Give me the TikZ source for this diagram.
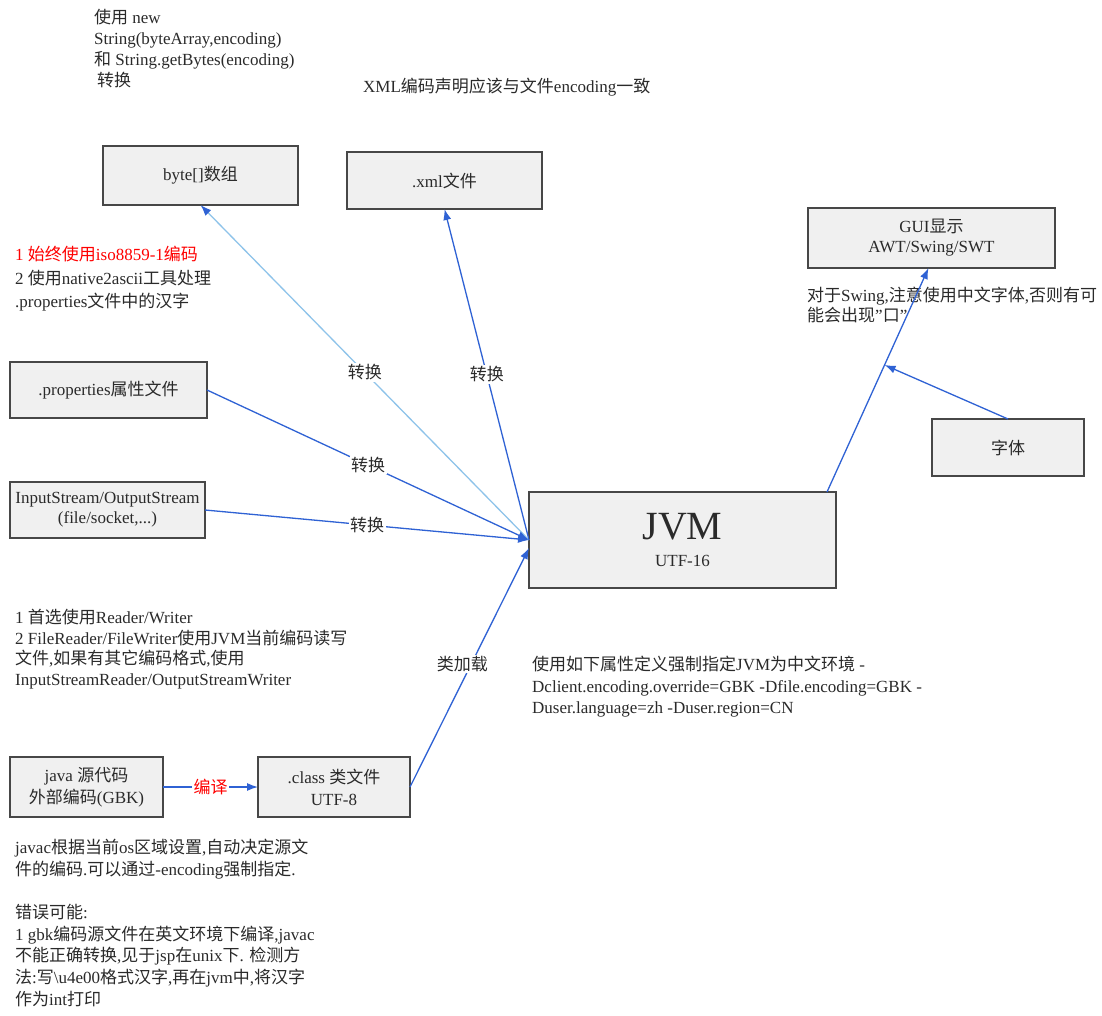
\documentclass[tikz,border=0pt]{standalone}
\usepackage{fontspec}
\setmainfont{Liberation Serif}
\newfontfamily\cjk{Noto Sans CJK SC}
\XeTeXinterchartokenstate=1
\newXeTeXintercharclass\cjkcls
\count255="4E00
\loop\ifnum\count255<"A000 \XeTeXcharclass\count255=\cjkcls\advance\count255 by 1\relax\repeat
\XeTeXinterchartoks 0 \cjkcls={\cjk}
\XeTeXinterchartoks 4095 \cjkcls={\cjk}
\XeTeXinterchartoks \cjkcls 0={\rmfamily}
\XeTeXinterchartoks \cjkcls 4095={\rmfamily}
\usetikzlibrary{arrows.meta,calc}
\definecolor{arrblue}{HTML}{2F62D4}
\definecolor{lightblue}{HTML}{8EC3EA}
\definecolor{boxfill}{HTML}{F0F0F0}
\definecolor{inkgray}{HTML}{2A2A2A}
\begin{document}
\begin{tikzpicture}[x=1pt,y=-1pt,
  every node/.style={font=\fontsize{17}{21.5}\selectfont, inner sep=0pt, text=inkgray},
  box/.style={draw=black!72, line width=1.8pt, fill=boxfill, align=center, outer sep=0pt},
  txt/.style={align=left, anchor=west},
  arr/.style={draw=arrblue, line width=1.3pt, -{Latex[length=11pt,width=8pt,color=arrblue]}},
  lbl/.style={fill=white, inner sep=1.5pt}]
\useasboundingbox[fill=white] (0,0) rectangle (1102,1016);

% boxes
\node[box, minimum width=195pt, minimum height=59pt] (byte) at (200.5,175.5) {byte[]数组};
\node[box, minimum width=195pt, minimum height=57pt] (xml) at (444.5,180.5) {.xml文件};
\node[box, minimum width=247pt, minimum height=60pt, font=\fontsize{17}{20}\selectfont] (gui) at (931.5,238) {GUI显示\\AWT/Swing/SWT};
\node[box, minimum width=197pt, minimum height=56pt] (props) at (108.5,390) {.properties属性文件};
\node[box, minimum width=195pt, minimum height=56pt, font=\fontsize{17}{20}\selectfont] (is) at (107.5,510) {InputStream/OutputStream\\(file/socket,...)};
\node[box, minimum width=307pt, minimum height=96pt] (jvm) at (682.5,540) {{\fontsize{40}{40}\selectfont JVM}\\[6pt]UTF-16};
\node[box, minimum width=152pt, minimum height=57pt] (font) at (1008,447.5) {字体};
\node[box, minimum width=153pt, minimum height=60pt, font=\fontsize{17}{22}\selectfont] (java) at (86.5,787) {java 源代码\\外部编码(GBK)};
\node[box, minimum width=152pt, minimum height=60pt, font=\fontsize{17}{22}\selectfont] (cls) at (334,787) {.class 类文件\\UTF-8};

% notes
\node[txt, font=\fontsize{17}{21}\selectfont] (t1) at (94,49) {使用 new\\String(byteArray,encoding)\\和 String.getBytes(encoding)\\\hspace{3pt}转换};
\node[anchor=west] (t2) at (363,87) {XML编码声明应该与文件encoding一致};
\node[txt, font=\fontsize{17}{23.5}\selectfont] (t3) at (15,279) {\textcolor{red}{1 始终使用iso8859-1编码}\\2 使用native2ascii工具处理\\.properties文件中的汉字};
\node[txt, font=\fontsize{17}{20.5}\selectfont] (t4) at (807,305) {对于Swing,注意使用中文字体,否则有可\\能会出现\char34口\char34};
\node[txt, font=\fontsize{17}{20.7}\selectfont] (t5) at (15,649) {1 首选使用Reader/Writer\\2 FileReader/FileWriter使用JVM当前编码读写\\文件,如果有其它编码格式,使用\\InputStreamReader/OutputStreamWriter};
\node[txt] (t6) at (532,687) {使用如下属性定义强制指定JVM为中文环境 -\\Dclient.encoding.override=GBK -Dfile.encoding=GBK -\\Duser.language=zh -Duser.region=CN};
\node[txt, font=\fontsize{17}{21.6}\selectfont] (t7) at (15,923) {javac根据当前os区域设置,自动决定源文\\件的编码.可以通过-encoding强制指定.\\[21.6pt]错误可能:\\1 gbk编码源文件在英文环境下编译,javac\\不能正确转换,见于jsp在unix下. 检测方\\法:写\textbackslash u4e00格式汉字,再在jvm中,将汉字\\作为int打印};

% connectors
\draw[arr, draw=lightblue] (jvm.west) -- node[lbl]{转换} (byte.south);
\draw[arr] (jvm.west) -- node[lbl]{转换} (xml.south);
\draw[arr] (props.east) -- node[lbl]{转换} (jvm.west);
\draw[arr] (is.east) -- node[lbl]{转换} (jvm.west);
\draw[arr] (cls.east) -- node[lbl, pos=0.515, xshift=-9pt]{类加载} ([yshift=-8pt]jvm.west);
\draw[arr] (java.east) -- node[lbl, text=red]{编译} (cls.west);
\coordinate (ga) at ([xshift=-9pt]jvm.north east);
\coordinate (gb) at ([xshift=-3pt]gui.south);
\draw[arr] (ga) -- (gb);
\coordinate (gm) at ($(ga)!0.567!(gb)$);
\draw[arr] (font.north) -- (gm);
\end{tikzpicture}
\end{document}
